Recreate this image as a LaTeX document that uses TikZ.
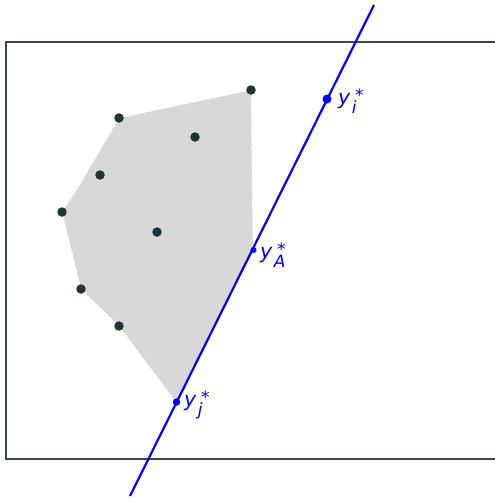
\documentclass[tikz,border=0pt]{standalone}
\usepackage{fontspec}
\setsansfont{DejaVu Sans}
\newcommand{\lbl}[1]{\textsf{\textit{y}}{\fontsize{17}{17}\selectfont\sffamily\rlap{\kern4.5pt\raisebox{2.5pt}{*}}\kern1.2pt\raisebox{-9pt}{\itshape #1}}}
\begin{document}
\begin{tikzpicture}[x=1pt,y=-1pt,
  pt/.style={circle,fill=dotc,inner sep=0pt,minimum size=9.5pt},
  bpt/.style={circle,fill=blue,inner sep=0pt,minimum size=9pt},
  lab/.style={text=blue,font=\fontsize{20.5}{24}\selectfont,inner sep=0pt}]
\definecolor{dotc}{HTML}{1F3538}
\definecolor{framec}{HTML}{37474A}
\definecolor{hullc}{HTML}{D8D8D8}
\useasboundingbox (0,0) rectangle (495,498);
\draw[framec,line width=2.2pt] (500,42) -- (6,42) -- (6,459) -- (500,459);
% hull
\coordinate (h1) at (119,118);
\coordinate (h2) at (251,90);
\coordinate (h3) at (253,251);
\coordinate (h4) at (176,402);
\coordinate (h5) at (119,326);
\coordinate (h6) at (81,289);
\coordinate (h7) at (62,212);
\coordinate (h8) at (78,188);
\fill[hullc] (h1) -- (h2) -- (h3) -- (h4) -- (h5) -- (h6) -- (h7) -- (h8) -- cycle;
\draw[white!90!hullc,line width=0.6pt,dashed] (h1) -- (h2) -- (h3) -- (h4) -- (h5) -- (h6) -- (h7) -- (h8) -- cycle;
% points
\node[pt] (p1) at (251,90) {};
\node[pt] (p2) at (119,118) {};
\node[pt] (p3) at (195,137) {};
\node[pt] (p4) at (100,175) {};
\node[pt] (p5) at (62,212) {};
\node[pt] (p6) at (157,232) {};
\node[pt] (p7) at (81,289) {};
\node[pt] (p8) at (119,326) {};
% line
\coordinate (l0) at (130,496);
\coordinate (l1) at (374,5);
\draw[blue,line width=2.2pt] (l0) -- (l1);
\node[bpt] (yi) at (327,99) {};
\node[bpt,minimum size=6pt] (yA) at (253.5,250) {};
\node[bpt,minimum size=7.5pt] (yj) at (176.5,402) {};
\node[lab,anchor=base west] (li) at (338,104) {\lbl{i}};
\node[lab,anchor=base west] (lA) at (260,258) {\lbl{A}};
\node[lab,anchor=base west] (lj) at (184,406) {\lbl{j}};
\end{tikzpicture}
\end{document}
